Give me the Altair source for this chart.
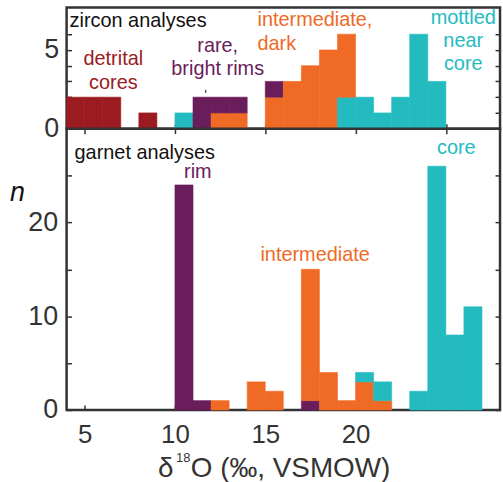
import altair as alt
import pandas as pd

# Histogram segments, listed bottom-to-top within each 1-permil bin
zircon_bin = [4, 5, 6, 8, 10, 11, 12, 12, 13, 13, 15, 15, 16, 17, 18, 19, 19, 20, 21, 22, 23, 24]
zircon_group = ["detrital", "detrital", "detrital", "detrital", "core", "rim",
                "intermediate", "rim", "intermediate", "rim", "intermediate", "rim",
                "intermediate", "intermediate", "intermediate", "core", "intermediate",
                "core", "core", "core", "core", "core"]
zircon_count = [2, 2, 2, 1, 1, 2, 1, 1, 1, 1, 2, 1, 3, 4, 5, 2, 4, 2, 1, 2, 6, 3]

garnet_bin = [10, 11, 12, 14, 15, 17, 17, 18, 19, 20, 20, 21, 21, 23, 24, 25, 26]
garnet_group = ["rim", "rim", "intermediate", "intermediate", "intermediate", "rim",
                "intermediate", "intermediate", "intermediate", "intermediate", "core",
                "intermediate", "core", "core", "core", "core", "core"]
garnet_count = [24, 1, 1, 3, 2, 1, 14, 4, 1, 3, 1, 1, 2, 2, 26, 8, 11]

groups = ["detrital", "rim", "intermediate", "core"]
group_colors = ["#9B1B21", "#6A1D5B", "#EF6A25", "#23BBBF"]

FONT = "Liberation Sans"
AXIS_COLOR = "#333333"
BIN_WIDTH = 1
X_DOMAIN = [4, 28]
PLOT_W = 436


def stacked(bins, grp, counts):
    rows, top = [], {}
    for b, g, n in zip(bins, grp, counts):
        base = top.get(b, 0)
        rows.append({"x0": b, "x1": b + BIN_WIDTH, "y0": base, "y1": base + n, "group": g})
        top[b] = base + n
    return pd.DataFrame(rows)


one_row = pd.DataFrame({"k": [0]})


def note(lines, color, x, y, align="center", size=20, line_height=24, style="normal"):
    return alt.Chart(one_row).mark_text(
        text=lines, color=color, align=align, baseline="top", font=FONT,
        fontSize=size, lineHeight=line_height, fontStyle=style,
    ).encode(x=alt.value(x), y=alt.value(y))


def label(text, x, y, size):
    return alt.Chart(one_row).mark_text(
        text=text, color=AXIS_COLOR, align="left", baseline="alphabetic",
        font=FONT, fontSize=size,
    ).encode(x=alt.value(x), y=alt.value(y))


def inward(**kw):
    base = dict(tickSize=5, offset=-5, domain=False, grid=False, title=None,
                tickColor=AXIS_COLOR, tickWidth=1.5, labelColor=AXIS_COLOR, labelFont=FONT)
    base.update(kw)
    return alt.Axis(**base)


color_scale = alt.Scale(domain=groups, range=group_colors)
color = alt.Color("group:N", scale=color_scale, legend=None)
stroke = alt.Stroke("group:N", scale=color_scale, legend=None)


def panel(df, height, ymax, yticks, y_label_step, x_axis, y_axis_kw, top_axis):
    xs = alt.Scale(domain=X_DOMAIN, nice=False, zero=False)
    ys = alt.Scale(domain=[0, ymax], nice=False)
    bars = alt.Chart(df).mark_bar(strokeWidth=0.6).encode(
        x=alt.X("x0:Q", scale=xs, axis=x_axis),
        x2="x1",
        y=alt.Y("y0:Q", scale=ys, axis=inward(
            values=yticks, orient="left",
            labelExpr=f"datum.value % {y_label_step} === 0 ? datum.label : ''",
            **y_axis_kw)),
        y2="y1",
        color=color,
        stroke=stroke,
    )
    ghost = alt.Chart(df).mark_point(opacity=0).encode(
        x=alt.X("x0:Q", scale=xs, axis=top_axis),
        y=alt.Y("y1:Q", scale=ys, axis=inward(values=yticks, orient="right", labels=False)),
    )
    return bars, ghost, height


xticks = [5, 10, 15, 20, 25]

zircon = stacked(zircon_bin, zircon_group, zircon_count)
garnet = stacked(garnet_bin, garnet_group, garnet_count)

zb, zg, zh = panel(
    zircon, 122, 7.7, list(range(0, 7)), 5,
    inward(values=xticks, orient="bottom", labels=False),
    dict(labelFontSize=27, labelPadding=8),
    None,
)
top = alt.layer(
    zb, zg,
    note("zircon analyses", "#111111", 3, 4, align="left"),
    note(["detrital", "cores"], group_colors[0], 47, 42, line_height=24),
    note(["rare,", "bright rims"], group_colors[1], 152, 29, line_height=23),
    note(["intermediate,", "dark"], group_colors[2], 192, 3, align="left", line_height=24),
    note(["mottled", "near", "core"], group_colors[3], 399, 1, line_height=23),
    alt.Chart(one_row).mark_rule(color="#111111", strokeWidth=1).encode(
        x=alt.value(140), y=alt.value(83), y2=alt.value(86)),
).resolve_axis(x="independent", y="independent").properties(width=PLOT_W, height=zh)

gb, gg, gh = panel(
    garnet, 283, 30, [0, 5, 10, 15, 20, 25], 10,
    inward(values=xticks, orient="bottom", labelFontSize=26, labelPadding=12,
           labelExpr="datum.value < 25 ? datum.label : ''"),
    dict(labelFontSize=27, labelPadding=9),
    inward(values=xticks, orient="top", labels=False),
)
bottom = alt.layer(
    gb, gg,
    note("garnet analyses", "#111111", 8, 14, align="left"),
    note("rim", group_colors[1], 132, 34),
    note("intermediate", group_colors[2], 250, 117),
    note("core", group_colors[3], 392, 9),
    note("n", "#111111", -57, 52, align="left", size=27, style="italic"),
    label("δ", 92, 350, 28),
    label("18", 110, 335, 13),
    label("O (‰, VSMOW)", 125, 350, 28),
).resolve_axis(x="independent", y="independent").properties(width=PLOT_W, height=gh)

chart = alt.vconcat(top, bottom, spacing=0, bounds="flush").properties(
    padding={"left": 8, "top": 4, "right": 1, "bottom": 0}
).configure_view(stroke=AXIS_COLOR, strokeWidth=2.5)

chart.save("out.html", embed_options={"renderer": "svg", "actions": False})
